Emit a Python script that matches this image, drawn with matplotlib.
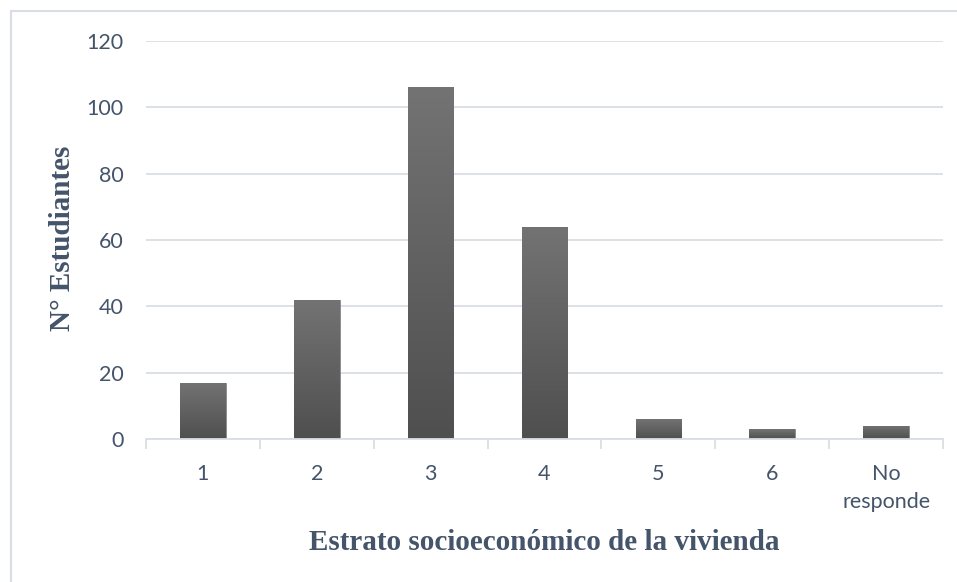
import matplotlib
matplotlib.use("Agg")
import matplotlib.pyplot as plt
import numpy as np
from matplotlib.patches import Rectangle
from matplotlib.colors import LinearSegmentedColormap

categories = ["1", "2", "3", "4", "5", "6", "No\nresponde"]
students = [17, 42, 106, 64, 6, 3, 4]
y_ticks = [0, 20, 40, 60, 80, 100, 120]

TEXT = "#44546A"
GRID = "#D9DDE5"

fig = plt.figure(figsize=(9.57, 5.82), dpi=100)
ax = fig.add_axes([146 / 957, 1 - 439 / 582, 797 / 957, 398 / 582])

x = np.arange(len(categories))
bars = ax.bar(x, students, width=0.40, color="#5f5f5f", edgecolor="#8a8a8a",
              linewidth=0.6, zorder=2)

# vertical gradient inside each bar (lighter on top)
grad_cmap = LinearSegmentedColormap.from_list("g", ["#4f4f4f", "#737373"])
gradient = np.linspace(0, 1, 256).reshape(-1, 1)
for b in bars:
    x0, y0 = b.get_x(), b.get_y()
    w, h = b.get_width(), b.get_height()
    im = ax.imshow(gradient, cmap=grad_cmap, origin="lower", aspect="auto",
                   extent=(x0, x0 + w, y0, y0 + h), zorder=2.5)
    im.set_clip_path(b)

ax.set_xlim(-0.5, len(categories) - 0.5)
ax.set_ylim(0, 120)
ax.set_yticks(y_ticks)
ax.set_xticks(x)
ax.set_xticklabels(categories, linespacing=1.5)
ax.set_xticks(np.arange(len(categories) + 1) - 0.5, minor=True)

ax.grid(axis="y", color=GRID, linewidth=1.3, zorder=0)
ax.set_axisbelow(True)
for side in ["top", "right", "left"]:
    ax.spines[side].set_visible(False)
ax.spines["bottom"].set_color(GRID)
ax.spines["bottom"].set_linewidth(1.3)

ax.tick_params(axis="y", length=0, pad=16, labelsize=15.5, labelcolor=TEXT)
ax.tick_params(axis="x", which="major", length=0, pad=18, labelsize=15.5,
               labelcolor=TEXT)
ax.tick_params(axis="x", which="minor", length=7, width=1.3, color=GRID)
for lab in ax.get_xticklabels() + ax.get_yticklabels():
    lab.set_fontfamily("Lato")
for lab in ax.get_xticklabels():
    lab.set_verticalalignment("top")

serif = dict(family="Liberation Serif", fontweight="bold", color=TEXT, fontsize=21)
fig.text(544 / 957, 1 - 542 / 582, "Estrato socioeconómico de la vivienda",
         ha="center", va="center", **serif)
fig.text(62 / 957, 1 - 238 / 582, "N° Estudiantes", rotation=90,
         ha="center", va="center", **serif)

# chart frame
fig.patches.append(Rectangle((11 / 957, -0.05), 1.2, 1 - 11 / 582 + 0.05,
                             transform=fig.transFigure, fill=False,
                             edgecolor="#D9DDE5", linewidth=1.5))

fig.savefig("out.png", dpi=100)
